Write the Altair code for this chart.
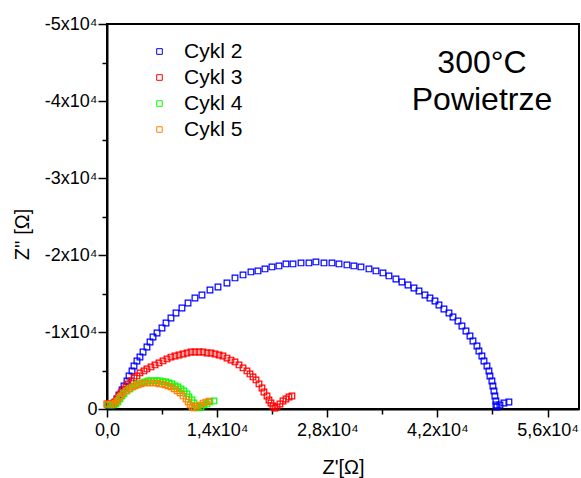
import altair as alt
import pandas as pd

series_names = ["Cykl 2", "Cykl 3", "Cykl 4", "Cykl 5"]
series_colors = ["#0000ff", "#ff0000", "#00ff00", "#ff8000"]
marker_sizes = [32, 30, 18, 18]

# Z' and Z'' values in kOhm
c2_x = [0.13, 0.51, 0.89, 1.27, 1.53, 1.91, 2.16, 2.54, 2.80, 3.18, 3.43, 3.81, 4.19, 4.58, 5.08, 5.47, 5.85, 6.36, 6.99, 7.50,
        8.13, 8.77, 9.53, 10.30, 11.18, 12.07, 13.09, 14.11, 15.25, 16.27, 17.29, 18.30, 19.19, 20.08, 20.97, 21.86, 22.75, 23.64, 24.66, 25.67,
        26.56, 27.58, 28.60, 29.49, 30.50, 31.39, 32.28, 33.30, 34.19, 35.08, 35.84, 36.73, 37.49, 38.26, 39.02, 39.66, 40.42, 41.05, 41.69, 42.20,
        42.83, 43.47, 43.98, 44.61, 45.12, 45.63, 46.14, 46.52, 47.03, 47.28, 47.66, 47.92, 48.30, 48.55, 48.68, 48.93, 49.06, 49.19, 49.31, 49.44,
        49.44, 49.57, 49.95, 50.46, 51.09]
c2_y = [-0.52, -0.52, -0.78, -1.30, -1.82, -2.47, -2.99, -3.64, -4.29, -4.94, -5.59, -6.24, -6.75, -7.40, -8.05, -8.70, -9.35, -9.87, -10.52, -11.17,
        -11.82, -12.47, -13.12, -13.77, -14.42, -14.81, -15.46, -15.85, -16.37, -17.02, -17.41, -17.80, -17.93, -18.19, -18.45, -18.58, -18.84, -18.84, -18.97, -18.97,
        -19.10, -18.97, -18.97, -18.84, -18.71, -18.58, -18.45, -18.19, -17.93, -17.67, -17.28, -16.89, -16.50, -16.11, -15.72, -15.33, -14.81, -14.42, -14.03, -13.51,
        -12.99, -12.47, -11.95, -11.43, -10.78, -10.13, -9.48, -8.83, -8.18, -7.53, -6.88, -6.24, -5.59, -4.94, -4.29, -3.64, -2.99, -2.34, -1.69, -1.04,
        -0.52, -0.26, -0.52, -0.78, -0.91]

c3_x = [0.00, 0.38, 0.76, 1.02, 1.27, 1.53, 1.78, 2.03, 2.41, 2.67, 3.05, 3.43, 3.81, 4.19, 4.70, 5.08, 5.59, 6.10, 6.61,
        7.12, 7.63, 8.13, 8.64, 9.15, 9.66, 10.17, 10.68, 11.18, 11.69, 12.20, 12.71, 13.22, 13.73, 14.24, 14.74, 15.25, 15.76, 16.27, 16.78,
        17.29, 17.79, 18.18, 18.56, 18.94, 19.32, 19.70, 19.95, 20.34, 20.59, 20.84, 21.10, 21.35, 21.61, 21.99, 22.37, 22.75, 23.13, 23.51]
c3_y = [-0.65, -0.65, -0.65, -0.91, -1.30, -1.69, -2.08, -2.47, -2.86, -3.25, -3.64, -4.03, -4.29, -4.68, -4.94, -5.20, -5.46, -5.72, -5.98,
        -6.24, -6.50, -6.75, -6.88, -7.01, -7.14, -7.27, -7.40, -7.40, -7.40, -7.40, -7.27, -7.27, -7.14, -7.01, -6.88, -6.62, -6.36, -6.11, -5.72,
        -5.33, -4.94, -4.55, -4.16, -3.77, -3.25, -2.73, -2.21, -1.69, -1.17, -0.78, -0.39, -0.13, -0.26, -0.65, -1.04, -1.30, -1.56, -1.69]

c4_x = [0.13, 0.51, 0.89, 1.14, 1.40, 1.65, 1.91, 2.16, 2.54, 2.92, 3.30, 3.69, 4.07, 4.45, 4.83, 5.21, 5.59, 5.97, 6.36, 6.74,
        7.12, 7.50, 7.88, 8.26, 8.64, 9.02, 9.41, 9.79, 10.17, 10.42, 10.80, 11.06, 11.31, 11.57, 11.95, 12.33, 12.71, 13.09, 13.60]
c4_y = [-0.52, -0.52, -0.52, -0.65, -0.91, -1.30, -1.69, -1.95, -2.34, -2.60, -2.86, -3.12, -3.25, -3.38, -3.51, -3.64, -3.64, -3.64, -3.64, -3.64,
        -3.51, -3.51, -3.38, -3.25, -2.99, -2.86, -2.60, -2.34, -1.95, -1.56, -1.17, -0.78, -0.39, -0.13, -0.26, -0.52, -0.65, -0.91, -1.04]

c5_x = [0.00, 0.38, 0.76, 1.02, 1.27, 1.53, 1.78, 2.03, 2.41, 2.80, 3.18, 3.56, 3.94, 4.32, 4.70, 5.08, 5.47, 5.85, 6.23, 6.61,
        6.99, 7.37, 7.75, 8.13, 8.52, 8.90, 9.28, 9.66, 10.04, 10.30, 10.55, 10.80, 11.06, 11.44, 11.82, 12.20, 12.58, 12.96]
c5_y = [-0.65, -0.65, -0.65, -0.78, -1.04, -1.43, -1.69, -2.08, -2.34, -2.60, -2.86, -2.99, -3.12, -3.25, -3.38, -3.38, -3.38, -3.38, -3.38, -3.25,
        -3.25, -3.12, -2.99, -2.86, -2.60, -2.34, -2.08, -1.69, -1.30, -0.91, -0.52, -0.26, -0.13, -0.39, -0.52, -0.78, -0.91, -1.04]

x_major = [0, 14000, 28000, 42000, 56000]
x_minor = [7000, 21000, 35000, 49000]
y_major = [0, -10000, -20000, -30000, -40000, -50000]
y_minor = [-5000, -15000, -25000, -35000, -45000]

rows = []
for name, xs, ys in zip(series_names, [c2_x, c3_x, c4_x, c5_x], [c2_y, c3_y, c4_y, c5_y]):
    for a, b in zip(xs, ys):
        rows.append({"series": name, "x": a * 1000, "y": b * 1000})
df = pd.DataFrame(rows)

FONT = "Liberation Sans"
xscale = alt.Scale(domain=[0, 60000], nice=False, zero=False)
yscale = alt.Scale(domain=[-50000, 0], reverse=True, nice=False, zero=False)

legend = alt.Legend(
    title=None, orient="none", legendX=42, legendY=17, symbolType="square",
    labelFontSize=21, labelFont=FONT, labelColor="black", symbolStrokeWidth=1,
    rowPadding=4, labelOffset=14, padding=0,
)

points = alt.Chart(df).mark_point(shape="square", filled=False, strokeWidth=1.2, opacity=1).encode(
    x=alt.X("x:Q", scale=xscale, axis=alt.Axis(
        orient="bottom", values=x_major, tickSize=8, labelPadding=4, labelFlush=False, labelOverlap=False,
        labelExpr="datum.value == 0 ? '0,0' : replace(format(datum.value / 10000, '.1f'), '.', ',') + 'x10⁴'",
        title="Z'[Ω]", titleFontSize=20, titleFont=FONT, titleFontWeight="normal",
        titleX=236, titleY=64, titleBaseline="alphabetic", grid=False)),
    y=alt.Y("y:Q", scale=yscale, axis=alt.Axis(
        orient="left", values=y_major, tickSize=9, labelPadding=1, labelFlush=False, labelOverlap=False,
        labelExpr="datum.value == 0 ? '0' : (datum.value / 10000) + 'x10⁴'",
        title="Z'' [Ω]", titleFontSize=20, titleFont=FONT, titleFontWeight="normal",
        titleX=-85, titleY=210, titleAngle=270, titleBaseline="middle", grid=False)),
    color=alt.Color("series:N", scale=alt.Scale(domain=series_names, range=series_colors), legend=legend),
    size=alt.Size("series:N", scale=alt.Scale(domain=series_names, range=marker_sizes), legend=legend),
)

minor = alt.Chart(df).mark_point(opacity=0).encode(
    x=alt.X("x:Q", scale=xscale, axis=alt.Axis(orient="bottom", values=x_minor, tickSize=5, labels=False,
                                               domain=False, grid=False, title=None)),
    y=alt.Y("y:Q", scale=yscale, axis=alt.Axis(orient="left", values=y_minor, tickSize=5, labels=False,
                                               domain=False, grid=False, title=None)),
)

t1 = alt.Chart(pd.DataFrame({"t": ["300°C"]})).mark_text(
    font=FONT, fontSize=32, color="black", align="center", baseline="alphabetic"
).encode(text="t:N", x=alt.value(375), y=alt.value(49))
t2 = alt.Chart(pd.DataFrame({"t": ["Powietrze"]})).mark_text(
    font=FONT, fontSize=32, color="black", align="center", baseline="alphabetic"
).encode(text="t:N", x=alt.value(375), y=alt.value(86))

chart = alt.layer(points, minor, t1, t2).resolve_scale(
    x="shared", y="shared"
).resolve_axis(
    x="independent", y="independent"
).properties(
    width=472, height=385,
    padding={"left": 107, "top": 24, "right": 2, "bottom": 69},
    autosize=alt.AutoSizeParams(type="none"),
    background="white",
).configure_axis(
    domainColor="black", domainWidth=2, tickColor="black", tickWidth=1.5,
    labelFont=FONT, labelFontSize=18, labelColor="black", titleColor="black",
).configure_view(stroke="black", strokeWidth=2)

chart.save("out.html", embed_options={"renderer": "svg", "actions": False})
